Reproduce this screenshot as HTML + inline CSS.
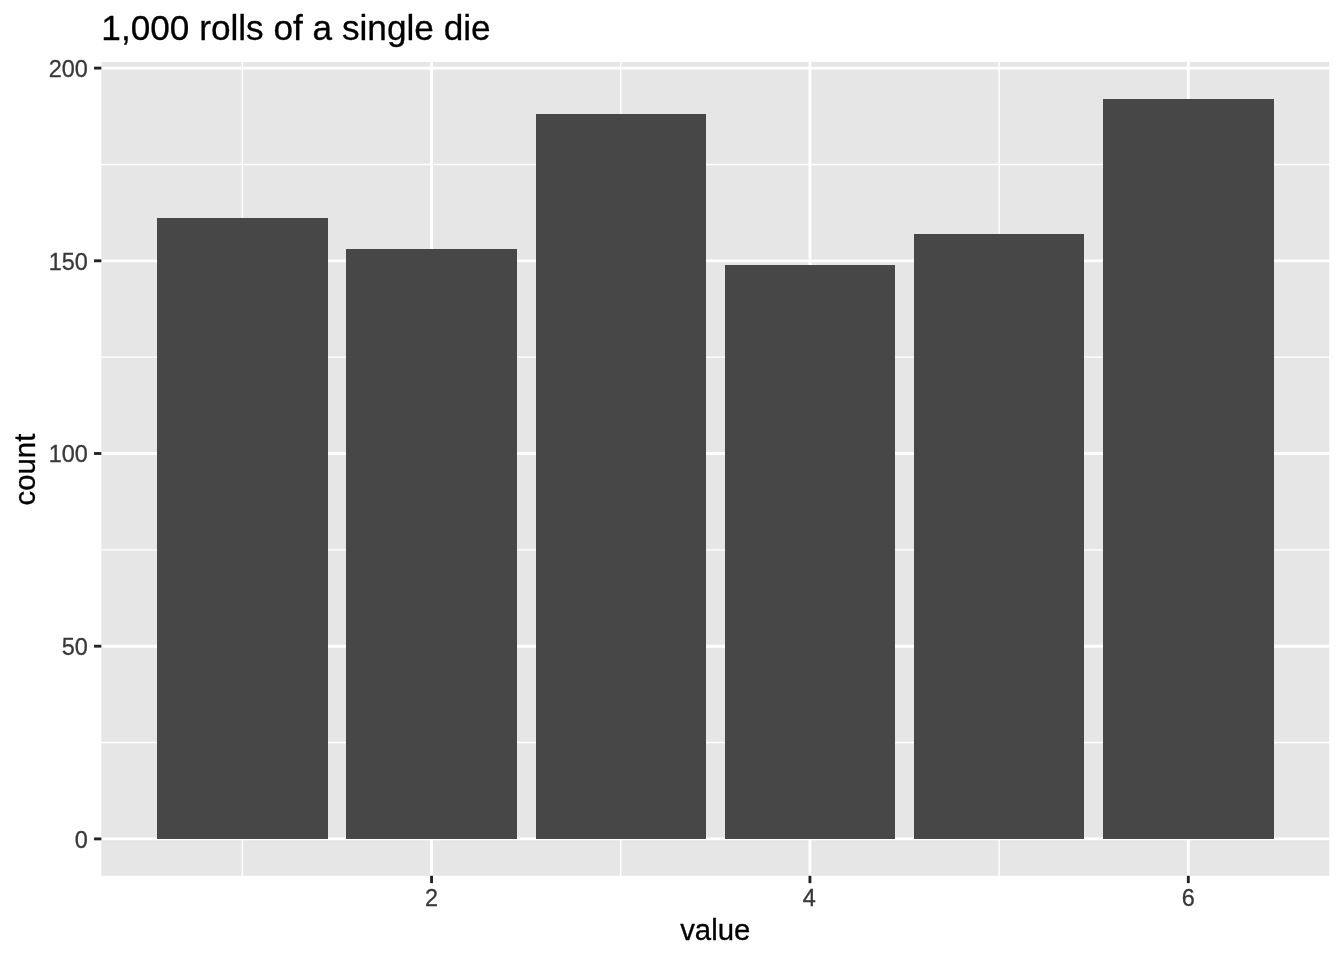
<!DOCTYPE html>
<html lang="en"><head><meta charset="utf-8"><title>1,000 rolls of a single die</title>
<style>html,body{margin:0;padding:0;background:#fff}body{width:1344px;height:960px;overflow:hidden}svg{display:block}</style></head>
<body>
<svg width="1344" height="960" viewBox="0 0 1344 960" font-family="'Liberation Sans', Arial, Helvetica, sans-serif">
<rect x="0" y="0" width="1344" height="960" fill="#fff"/>
<rect x="101.36" y="61.9" width="1227.84" height="813.90" fill="#E6E6E6"/>
<g stroke="#fff" stroke-width="1.43" fill="none">
<path d="M101.36 742.55H1329.2"/>
<path d="M101.36 549.85H1329.2"/>
<path d="M101.36 357.15H1329.2"/>
<path d="M101.36 164.45H1329.2"/>
<path d="M242.36 61.9V875.8"/>
<path d="M620.74 61.9V875.8"/>
<path d="M999.12 61.9V875.8"/>
</g>
<g stroke="#fff" stroke-width="2.85" fill="none">
<path d="M101.36 838.90H1329.2"/>
<path d="M101.36 646.20H1329.2"/>
<path d="M101.36 453.50H1329.2"/>
<path d="M101.36 260.80H1329.2"/>
<path d="M101.36 68.10H1329.2"/>
<path d="M431.55 61.9V875.8"/>
<path d="M809.93 61.9V875.8"/>
<path d="M1188.31 61.9V875.8"/>
</g>
<g fill="#474747">
<rect x="157" y="218" width="171" height="621"/>
<rect x="346" y="249" width="171" height="590"/>
<rect x="536" y="114" width="170" height="725"/>
<rect x="725" y="265" width="170" height="574"/>
<rect x="914" y="234" width="170" height="605"/>
<rect x="1103" y="99" width="171" height="740"/>
</g>
<g stroke="#222222" stroke-width="2.85" fill="none">
<path d="M94.03 838.90H101.36"/>
<path d="M94.03 646.20H101.36"/>
<path d="M94.03 453.50H101.36"/>
<path d="M94.03 260.80H101.36"/>
<path d="M94.03 68.10H101.36"/>
<path d="M431.55 875.8V883.13"/>
<path d="M809.93 875.8V883.13"/>
<path d="M1188.31 875.8V883.13"/>
</g>
<g fill="#383838" stroke="#383838" stroke-width="0.3" font-size="23.47px" text-anchor="end">
<text x="87.86" y="847.80">0</text>
<text x="87.86" y="655.10">50</text>
<text x="87.86" y="462.40">100</text>
<text x="87.86" y="269.70">150</text>
<text x="87.86" y="77.00">200</text>
</g>
<g fill="#383838" stroke="#383838" stroke-width="0.3" font-size="23.47px" text-anchor="middle">
<text x="431.55" y="905.6">2</text>
<text x="809.33" y="905.6">4</text>
<text x="1188.31" y="905.6">6</text>
</g>
<text x="715.28" y="940" font-size="29.33px" text-anchor="middle" fill="#000" stroke="#000" stroke-width="0.3">value</text>
<text transform="translate(35.4 469.55) rotate(-90)" font-size="29.33px" text-anchor="middle" fill="#000" stroke="#000" stroke-width="0.3">count</text>
<text x="101.36" y="39.6" font-size="35.2px" fill="#000" stroke="#000" stroke-width="0.3">1,000 rolls of a single die</text>
</svg>
</body></html>
